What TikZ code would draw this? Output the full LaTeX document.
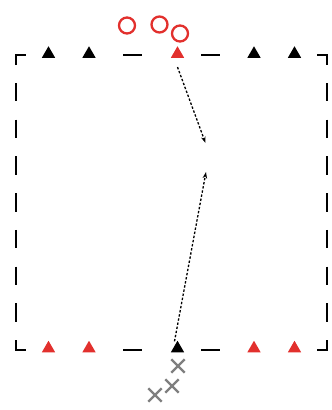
\documentclass[tikz,border=0pt]{standalone}
\usetikzlibrary{shapes.geometric,shapes.misc,arrows.meta}
\definecolor{conered}{HTML}{E2302D}
\definecolor{markgray}{HTML}{7F7F7F}
\begin{document}
\begin{tikzpicture}[x=1pt,y=-1pt,
  fieldline/.style={line width=2.6pt,black},
  cone/.style={regular polygon,regular polygon sides=3,inner sep=0pt,minimum size=15.5pt,draw=none,fill=#1},
  ring/.style={circle,draw=conered,line width=2.3pt,inner sep=0pt,minimum size=16pt},
  xmark/.style={cross out,draw=markgray,line width=2.4pt,inner sep=0pt,minimum size=11pt},
  run/.style={dash pattern=on 2.4pt off 1.8pt,line width=1.3pt,-{Stealth[length=6.5pt,width=4.5pt]}}]
\useasboundingbox (0,0) rectangle (332,410);
% field outline
\draw[fieldline] (16,65) -- (16,55) -- (26,55);
\draw[fieldline] (16,340) -- (16,350) -- (26,350);
\draw[fieldline] (317,55) -- (327,55) -- (327,65);
\draw[fieldline] (317,350) -- (327,350) -- (327,340);
\draw[fieldline,dash pattern=on 18.4pt off 18.3pt] (16,83) -- (16,322);
\draw[fieldline,dash pattern=on 18.4pt off 18.3pt] (327,83) -- (327,322);
\draw[fieldline] (123,55) -- (142,55);
\draw[fieldline] (201,55) -- (220,55);
\draw[fieldline] (123,350) -- (142,350);
\draw[fieldline] (201,350) -- (220,350);
% cones top
\node[cone=black] (t1) at (48.5,54) {};
\node[cone=black] (t2) at (89,54) {};
\node[cone=conered] (t3) at (177.5,54) {};
\node[cone=black] (t4) at (254,54) {};
\node[cone=black] (t5) at (294.5,54) {};
% cones bottom
\node[cone=conered] (b1) at (48.5,348.5) {};
\node[cone=conered] (b2) at (89,348.5) {};
\node[cone=black] (b3) at (177.5,348.5) {};
\node[cone=conered] (b4) at (254,348.5) {};
\node[cone=conered] (b5) at (294.5,348.5) {};
% rings
\node[ring] (r1) at (127,25.5) {};
\node[ring] (r2) at (159.5,24.5) {};
\node[ring] (r3) at (180,33.5) {};
% crosses
\node[xmark] (x1) at (178,366) {};
\node[xmark] (x2) at (172,386) {};
\node[xmark] (x3) at (155,395) {};
% runs
\coordinate (e1) at (205.5,143);
\coordinate (e2) at (206,172);
\draw[run] ([yshift=-9pt]t3.south) -- (e1);
\draw[run] ([xshift=-3pt,yshift=-1pt]b3.north) -- (e2);
\end{tikzpicture}
\end{document}
